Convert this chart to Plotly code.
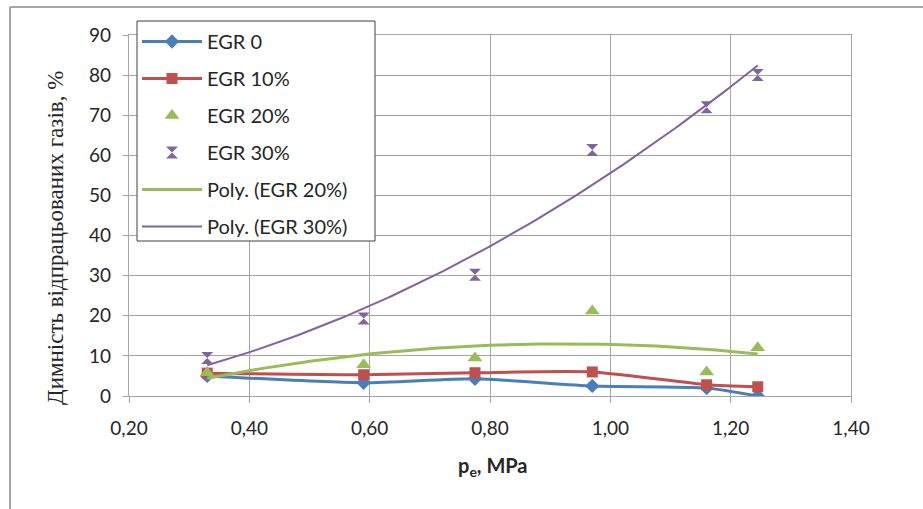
import numpy as np
import plotly.graph_objects as go

# ---- data ----
pe = [0.33, 0.59, 0.775, 0.97, 1.16, 1.245]
egr0 = [5.0, 3.3, 4.3, 2.5, 2.0, 0.0]
egr10 = [5.7, 5.3, 5.8, 6.0, 2.8, 2.3]
egr20 = [5.8, 7.8, 9.5, 21.2, 6.0, 12.0]
egr30 = [9.5, 19.3, 30.2, 61.3, 72.0, 80.0]

x_tickvals = [0.2, 0.4, 0.6, 0.8, 1.0, 1.2, 1.4]
x_ticktext = ["0,20", "0,40", "0,60", "0,80", "1,00", "1,20", "1,40"]
y_tickvals = [0, 10, 20, 30, 40, 50, 60, 70, 80, 90]

BLUE = "#4a7ebb"
RED = "#c0504d"
GREEN = "#9bbb59"
PURPLE = "#8064a2"
GRID = "#a6a6a6"
FONT = "Lato"
TXT = "#262626"

# polynomial (order 2) trendlines, as Excel does
xx = np.linspace(min(pe), max(pe), 120)
p20 = np.polyval(np.polyfit(pe, egr20, 2), xx)
p30 = np.polyval(np.polyfit(pe, egr30, 2), xx)

fig = go.Figure()
fig.add_trace(go.Scatter(x=pe, y=egr0, name="EGR 0", mode="lines+markers",
                         line=dict(color=BLUE, width=3, shape="spline", smoothing=0.6),
                         marker=dict(symbol="diamond", size=11, color=BLUE),
                         legendgroup="a"))
fig.add_trace(go.Scatter(x=pe, y=egr10, name="EGR 10%", mode="lines+markers",
                         line=dict(color=RED, width=3, shape="spline", smoothing=0.6),
                         marker=dict(symbol="square", size=11, color=RED),
                         legendgroup="b"))
fig.add_trace(go.Scatter(x=pe, y=egr20, name="EGR 20%", mode="markers",
                         marker=dict(symbol="triangle-up", size=13, color=GREEN),
                         legendgroup="c"))
fig.add_trace(go.Scatter(x=pe, y=egr30, name="EGR 30%", mode="markers",
                         marker=dict(symbol="hourglass", size=12, color=PURPLE,
                                     line=dict(width=0)),
                         legendgroup="d"))
fig.add_trace(go.Scatter(x=xx, y=p20, name="Poly. (EGR 20%)", mode="lines",
                         line=dict(color=GREEN, width=3), legendgroup="e"))
fig.add_trace(go.Scatter(x=xx, y=p30, name="Poly. (EGR 30%)", mode="lines",
                         line=dict(color=PURPLE, width=2), legendgroup="f"))

W, H = 923, 509
L, R, T, B = 129, 851, 35, 396
pw, ph = R - L, B - T

def px(xp):
    return (xp - L) / pw

def py(yp):
    return (B - yp) / ph

fig.update_layout(
    width=W, height=H,
    margin=dict(l=L, r=W - R, t=T, b=H - B),
    paper_bgcolor="white", plot_bgcolor="white",
    font=dict(family=FONT, size=18, color=TXT),
    showlegend=True,
    legend=dict(x=px(137), y=py(22), xanchor="left", yanchor="top",
                bgcolor="rgba(0,0,0,0)", borderwidth=0,
                traceorder="grouped", tracegroupgap=8,
                font=dict(family=FONT, size=20, color=TXT),
                itemwidth=60),
)
fig.update_xaxes(range=[0.2, 1.4], tickvals=x_tickvals, ticktext=x_ticktext,
                 showgrid=True, gridcolor=GRID, gridwidth=1.3,
                 showline=True, linecolor=GRID, linewidth=1.3, mirror=True,
                 ticks="outside", ticklen=6, tickcolor=GRID,
                 ticklabelstandoff=9, zeroline=False,
                 tickfont=dict(family=FONT, size=19, color=TXT))
fig.update_yaxes(range=[0, 90], tickvals=y_tickvals,
                 showgrid=True, gridcolor=GRID, gridwidth=1.3,
                 showline=True, linecolor=GRID, linewidth=1.3, mirror=True,
                 ticks="outside", ticklen=5, tickcolor=GRID,
                 ticklabelstandoff=8, zeroline=False,
                 tickfont=dict(family=FONT, size=19, color=TXT))

# legend frame (white box with dark border)
fig.add_shape(type="rect", xref="paper", yref="paper", layer="above",
              x0=px(137), x1=px(375), y0=py(241), y1=py(21),
              fillcolor="white", line=dict(color="#404040", width=1))

# axis titles
fig.add_annotation(text="<b>p<sub>e</sub>, MPa</b>", xref="paper", yref="paper",
                   x=px(493), y=py(466), xanchor="center", yanchor="middle",
                   showarrow=False, font=dict(family=FONT, size=20, color=TXT))
fig.add_annotation(text="Димність відпрацьованих газів, %", xref="paper", yref="paper",
                   x=px(56), y=py(238), xanchor="center", yanchor="middle",
                   showarrow=False, textangle=-90,
                   font=dict(family="Liberation Serif", size=23, color=TXT))

# chart-area border (left and top only visible)
fig.add_shape(type="line", xref="paper", yref="paper",
              x0=px(10), x1=px(10), y0=py(509), y1=py(7),
              line=dict(color=GRID, width=2))
fig.add_shape(type="line", xref="paper", yref="paper",
              x0=px(10), x1=px(923), y0=py(7), y1=py(7),
              line=dict(color=GRID, width=2))

fig.write_html("out.html")
